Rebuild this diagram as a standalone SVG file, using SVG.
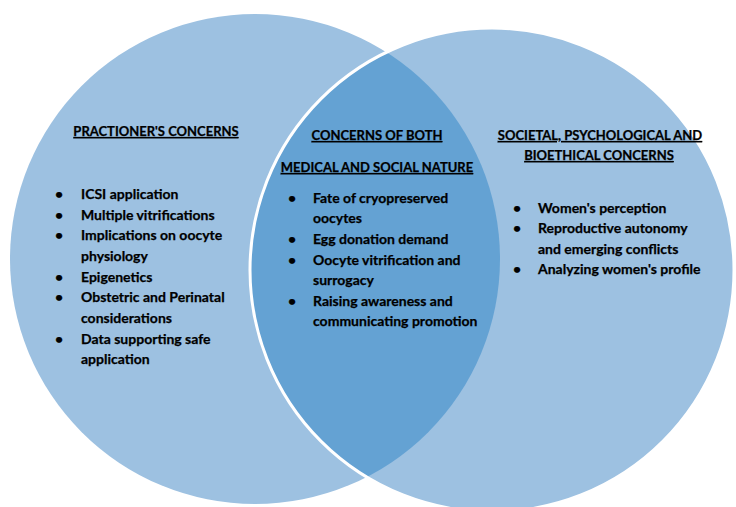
<svg xmlns="http://www.w3.org/2000/svg" width="736" height="507" viewBox="0 0 736 507">
<style>
.c{fill:#9DC1E1}
.t{font-family:Lato,"Liberation Sans",sans-serif;font-weight:bold;font-size:14px;fill:#000;stroke:#000;stroke-width:0.25}
.h{text-decoration:underline;font-size:13px}
.m{text-anchor:middle}
</style>
<defs>
<clipPath id="rc"><circle cx="492" cy="270" r="242"/></clipPath>
</defs>
<rect width="736" height="507" fill="#fff"/>
<g id="left-circle">
<circle class="c" cx="255" cy="259" r="245"/>
</g>
<g id="right-circle">
<circle class="c" cx="492" cy="270" r="242"/>
</g>
<g id="overlap">
<circle cx="255" cy="259" r="245" fill="#64A2D3" clip-path="url(#rc)"/>
<circle cx="492" cy="270" r="242" fill="none" stroke="#fff" stroke-width="3"/>
</g>
<g id="connectors"/>
<g id="practitioner">
<text class="t h m" x="156" y="136">PRACTIONER'S CONCERNS</text>
<g class="t">
<text x="55" y="199">•</text><text x="81" y="199">ICSI application</text>
<text x="55" y="220">•</text><text x="81" y="220">Multiple vitrifications</text>
<text x="55" y="240">•</text><text x="81" y="240">Implications on oocyte</text>
<text x="81" y="261">physiology</text>
<text x="55" y="282">•</text><text x="81" y="282">Epigenetics</text>
<text x="55" y="302">•</text><text x="81" y="302">Obstetric and Perinatal</text>
<text x="81" y="323">considerations</text>
<text x="55" y="344">•</text><text x="81" y="344">Data supporting safe</text>
<text x="81" y="364">application</text>
</g>
</g>
<g id="both">
<text class="t h m" x="377" y="140">CONCERNS OF BOTH</text>
<text class="t h m" x="377" y="172">MEDICAL AND SOCIAL NATURE</text>
<g class="t">
<text x="288" y="203">•</text><text x="313" y="203">Fate of cryopreserved</text>
<text x="313" y="223">oocytes</text>
<text x="288" y="244">•</text><text x="313" y="244">Egg donation demand</text>
<text x="288" y="265">•</text><text x="313" y="265">Oocyte vitrification and</text>
<text x="313" y="285">surrogacy</text>
<text x="288" y="306">•</text><text x="313" y="306">Raising awareness and</text>
<text x="313" y="326">communicating promotion</text>
</g>
</g>
<g id="societal">
<text class="t h m" x="600" y="140">SOCIETAL, PSYCHOLOGICAL AND</text>
<text class="t h m" x="599" y="160">BIOETHICAL CONCERNS</text>
<g class="t">
<text x="513" y="213">•</text><text x="538" y="213">Women's perception</text>
<text x="513" y="233">•</text><text x="538" y="233">Reproductive autonomy</text>
<text x="538" y="254">and emerging conflicts</text>
<text x="513" y="274">•</text><text x="538" y="274">Analyzing women's profile</text>
</g>
</g>
</svg>
